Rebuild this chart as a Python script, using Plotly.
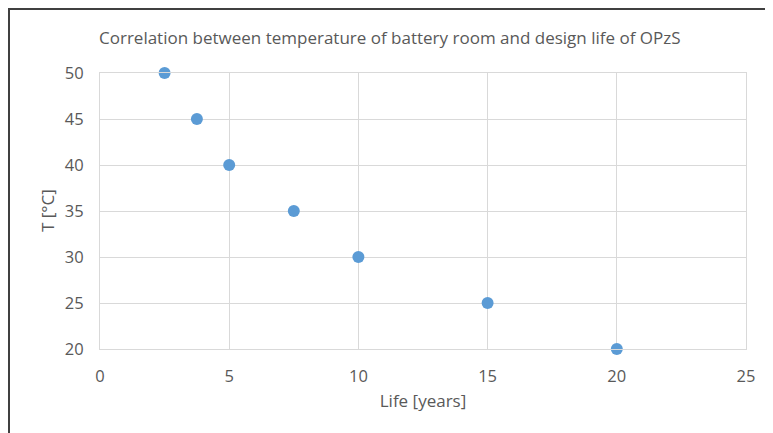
import plotly.graph_objects as go

life_years = [2.5, 3.75, 5, 7.5, 10, 15, 20]
temp_c = [50, 45, 40, 35, 30, 25, 20]

W, H = 773, 433
OFF = 8  # page offset of the figure inside the window
L, T = 100 - OFF, 73 - OFF
R = W - (746 - OFF)
B = H - (349 - OFF)
pw, ph = W - L - R, H - T - B

fig = go.Figure()
fig.add_trace(go.Scatter(
    x=life_years, y=temp_c, mode="markers",
    marker=dict(size=12, color="#5B9BD5"),
    showlegend=False, cliponaxis=False,
))

def px(xp):
    return (xp - OFF - L) / pw

def py(yp):
    return (H - B - (yp - OFF)) / ph

fig.update_layout(
    width=W, height=H,
    margin=dict(l=L, r=R, t=T, b=B),
    paper_bgcolor="white", plot_bgcolor="white",
    font=dict(family="Open Sans, sans-serif", color="#595959"),
    title=dict(
        text="Correlation between temperature of battery room and design life of OPzS",
        x=(99 - OFF) / W, xanchor="left", xref="container",
        y=1 - (38 - OFF) / H, yanchor="middle", yref="container",
        font=dict(size=17, color="#595959"),
    ),
    xaxis=dict(
        range=[0, 25], dtick=5, tick0=0,
        showgrid=True, gridcolor="#D9D9D9", gridwidth=1,
        zeroline=False, showline=True, linecolor="#D9D9D9",
        ticks="", tickfont=dict(size=16.5, color="#595959"),
        ticklabelstandoff=12,
        title=dict(text="Life [years]", font=dict(size=17, color="#595959"), standoff=9),
        mirror=True,
    ),
    yaxis=dict(
        range=[20, 50], dtick=5, tick0=20,
        showgrid=True, gridcolor="#D9D9D9", gridwidth=1,
        zeroline=False, showline=True, linecolor="#D9D9D9",
        ticks="", tickfont=dict(size=16.5, color="#595959"),
        ticklabelstandoff=12,
        mirror=True,
    ),
    annotations=[dict(
        text="T [°C]", textangle=-90, showarrow=False,
        xref="paper", yref="paper", x=px(47), y=0.5,
        xanchor="center", yanchor="middle",
        font=dict(size=17, color="#595959"),
    )],
    shapes=[dict(
        type="rect", xref="paper", yref="paper",
        x0=px(9), x1=px(800), y0=py(470), y1=py(9),
        line=dict(color="#404040", width=2), fillcolor="rgba(0,0,0,0)",
        layer="above",
    )],
)

fig.write_html("out.html")
